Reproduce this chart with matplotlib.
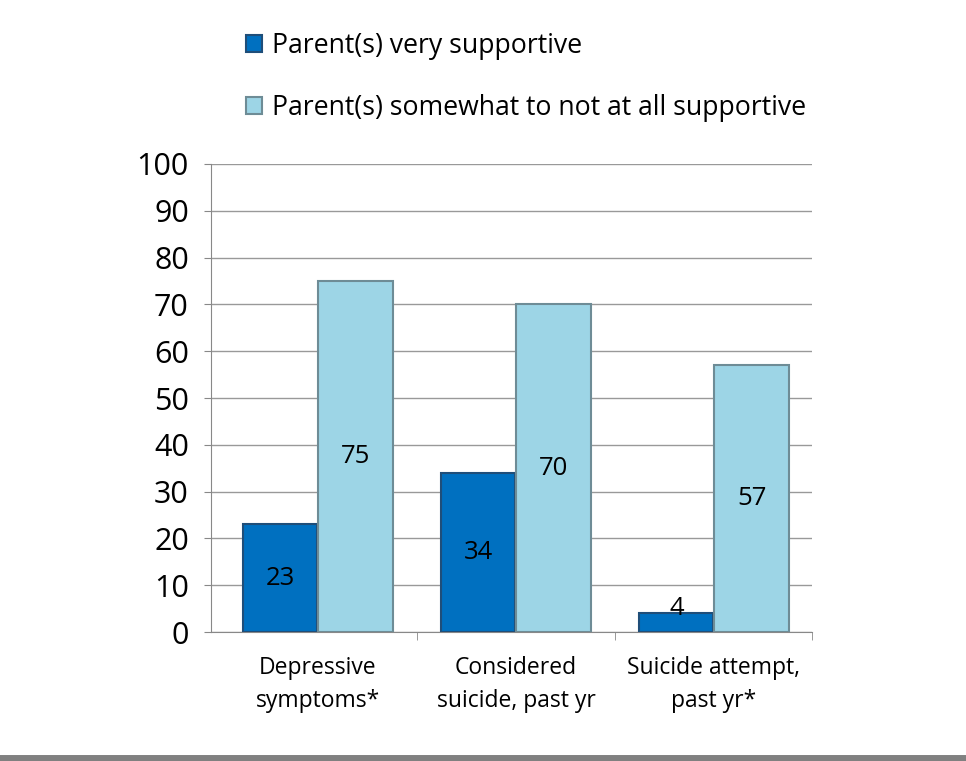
import matplotlib.pyplot as plt
import numpy as np

categories = ['Depressive\nsymptoms*', 'Considered\nsuicide, past yr', 'Suicide attempt,\npast yr*']
very_supportive = [23, 34, 4]
not_supportive = [75, 70, 57]
labels = ['Parent(s) very supportive', 'Parent(s) somewhat to not at all supportive']

plt.rcParams['font.family'] = ['Open Sans', 'DejaVu Sans']

fig = plt.figure(figsize=(9.66, 7.61), dpi=100)
ax = fig.add_axes([0.2184, 0.1695, 0.6222, 0.615])

x = np.arange(len(categories))
w = 0.375
b1 = ax.bar(x - 0.19, very_supportive, w, color='#0070C0', edgecolor='#1F4E79', linewidth=1.5,
            label=labels[0], zorder=3)
b2 = ax.bar(x + 0.19, not_supportive, w, color='#9DD5E6', edgecolor='#6E8C96', linewidth=1.5,
            label=labels[1], zorder=3)

for bars, vals in [(b1, very_supportive), (b2, not_supportive)]:
    for r, v in zip(bars, vals):
        ax.text(r.get_x() + r.get_width() / 2, max(v / 2, 5), str(v), ha='center', va='center',
                fontsize=18.5, color='black', zorder=4)

ax.set_xlim(-0.54, 2.495)
ax.set_ylim(0, 100)
ax.set_yticks(range(0, 101, 10))
ax.tick_params(axis='y', labelsize=22, length=5, color='#888888', pad=11)
ax.set_xticks(x)
ax.set_xticklabels(categories, fontsize=16.5, linespacing=1.5)
ax.tick_params(axis='x', length=0, pad=17)
ax.set_xticks([0.5, 1.5, 2.495], minor=True)
ax.tick_params(axis='x', which='minor', length=6, color='#888888')
ax.grid(axis='y', color='#999999', linewidth=1, zorder=0)
for s in ['top', 'right']:
    ax.spines[s].set_visible(False)
for s in ['left', 'bottom']:
    ax.spines[s].set_color('#888888')

fig.legend(handles=[b1, b2], loc='upper left', bbox_to_anchor=(0.23, 0.99), frameon=False,
           fontsize=19.2, handlelength=0.6, handleheight=0.6, handletextpad=0.35, labelspacing=1.3)

fig.add_artist(plt.Line2D([0, 1], [0.004, 0.004], color='#808080', linewidth=5, transform=fig.transFigure))

fig.savefig('out.png', dpi=100)
